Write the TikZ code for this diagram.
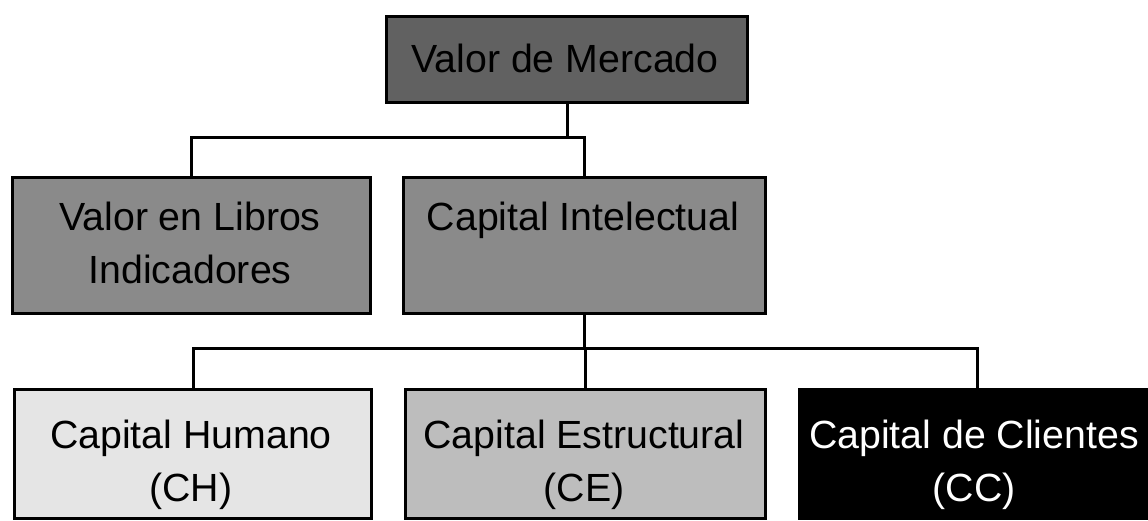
\documentclass[tikz,border=0pt]{standalone}
\usepackage{fontspec}
\setmainfont{Liberation Sans}
\begin{document}
\begin{tikzpicture}[x=1pt,y=-1pt,
  box/.style={draw=black, line width=3pt, rectangle, inner sep=0pt, anchor=north west},
  lbl/.style={font=\fontsize{39.3}{53}\selectfont, align=center, inner sep=0pt},
  wire/.style={draw=black, line width=3pt}]
\useasboundingbox (0,0) rectangle (1148,520);
\clip (0,0) rectangle (1148,520);

% boxes
\node[box, fill=black!62, minimum width=361pt, minimum height=86pt]  (vm)  at (385,15)  {};
\node[box, fill=black!46, minimum width=358pt, minimum height=136pt] (vlb) at (11,176)  {};
\node[box, fill=black!46, minimum width=362pt, minimum height=136pt] (ci)  at (402,176) {};
\node[box, fill=black!10, minimum width=357pt, minimum height=129pt] (ch)  at (13,388)  {};
\node[box, fill=black!26, minimum width=360pt, minimum height=129pt] (ce)  at (404,388) {};
\node[box, fill=black,    minimum width=356pt, minimum height=129pt] (cc)  at (798,388) {};

% labels
\node[lbl, anchor=base] (vmt)  at (565,72)    {Valor de Mercado};
\node[lbl]              (vlbt) at (190,245.9) {\strut Valor en Libros\\\strut Indicadores};
\node[lbl, anchor=base] (cit)  at (583,230)   {Capital Intelectual};
\node[lbl]              (cht)  at (191,464)   {\strut Capital Humano\\\strut (CH)};
\node[lbl]              (cet)  at (584,464)   {\strut Capital Estructural\\\strut (CE)};
\node[lbl, text=white]  (cct)  at (974,464)   {\strut Capital de Clientes\\\strut (CC)};

% connectors
\coordinate (j1) at (566,137);
\coordinate (j2) at (583,348);
\draw[wire] (vm.south) -- (vm.south |- j1);
\draw[wire] (vlb.north) |- (j1) -| (ci.north);
\draw[wire] (ci.south) -- (ci.south |- j2);
\draw[wire] (ch.north) |- (j2) -| (cc.north);
\draw[wire] (ce.north) -- (ce.north |- j2);
\end{tikzpicture}
\end{document}
